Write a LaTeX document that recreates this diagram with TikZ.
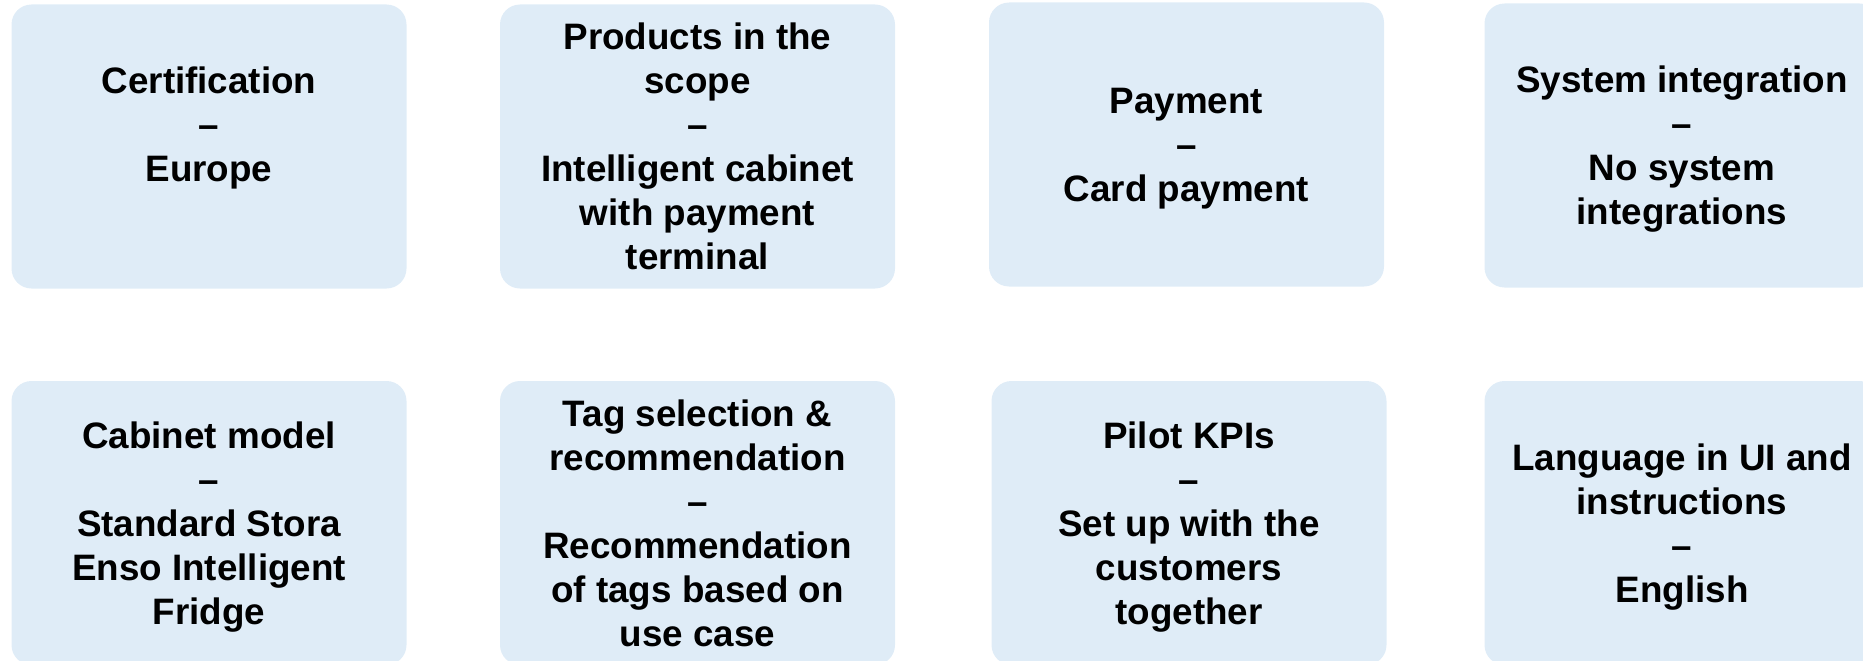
\documentclass[tikz,border=0pt]{standalone}
\usepackage{fontspec}
\setmainfont{Liberation Sans}
\definecolor{boxfill}{HTML}{DFECF7}
\begin{document}
\begin{tikzpicture}[x=1pt,y=-1pt,
  card/.style={fill=boxfill, draw=none, rounded corners=20pt, inner sep=0pt,
    minimum width=395pt, minimum height=284pt, align=center, text depth=0pt,
    font=\fontsize{36.8}{44}\selectfont\bfseries, text=black},
  lower/.style={text depth=-4pt}]
\useasboundingbox (0,0) rectangle (1863,661);
\clip (0,0) rectangle (1863,661);
% top row
\node[card] (cert) at (209,146.5) {Certification\\–\\Europe\\~};
\node[card] (prod) at (697.5,146.5) {Products in the\\scope\\–\\Intelligent cabinet\\with payment\\terminal};
\node[card] (pay) at (1186.5,144.5) {Payment\\–\\Card payment};
\node[card, lower] (sys) at (1682,145.5) {System integration\\–\\No system\\integrations};
% bottom row
\node[card] (cab) at (209,523) {Cabinet model\\–\\Standard Stora\\Enso Intelligent\\Fridge};
\node[card] (tag) at (697.5,523) {Tag selection \&\\recommendation\\–\\Recommendation\\of tags based on\\use case};
\node[card] (kpi) at (1189,523) {Pilot KPIs\\–\\Set up with the\\customers\\together};
\node[card, lower] (lang) at (1682,523) {Language in UI and\\instructions\\–\\English};
\end{tikzpicture}
\end{document}
